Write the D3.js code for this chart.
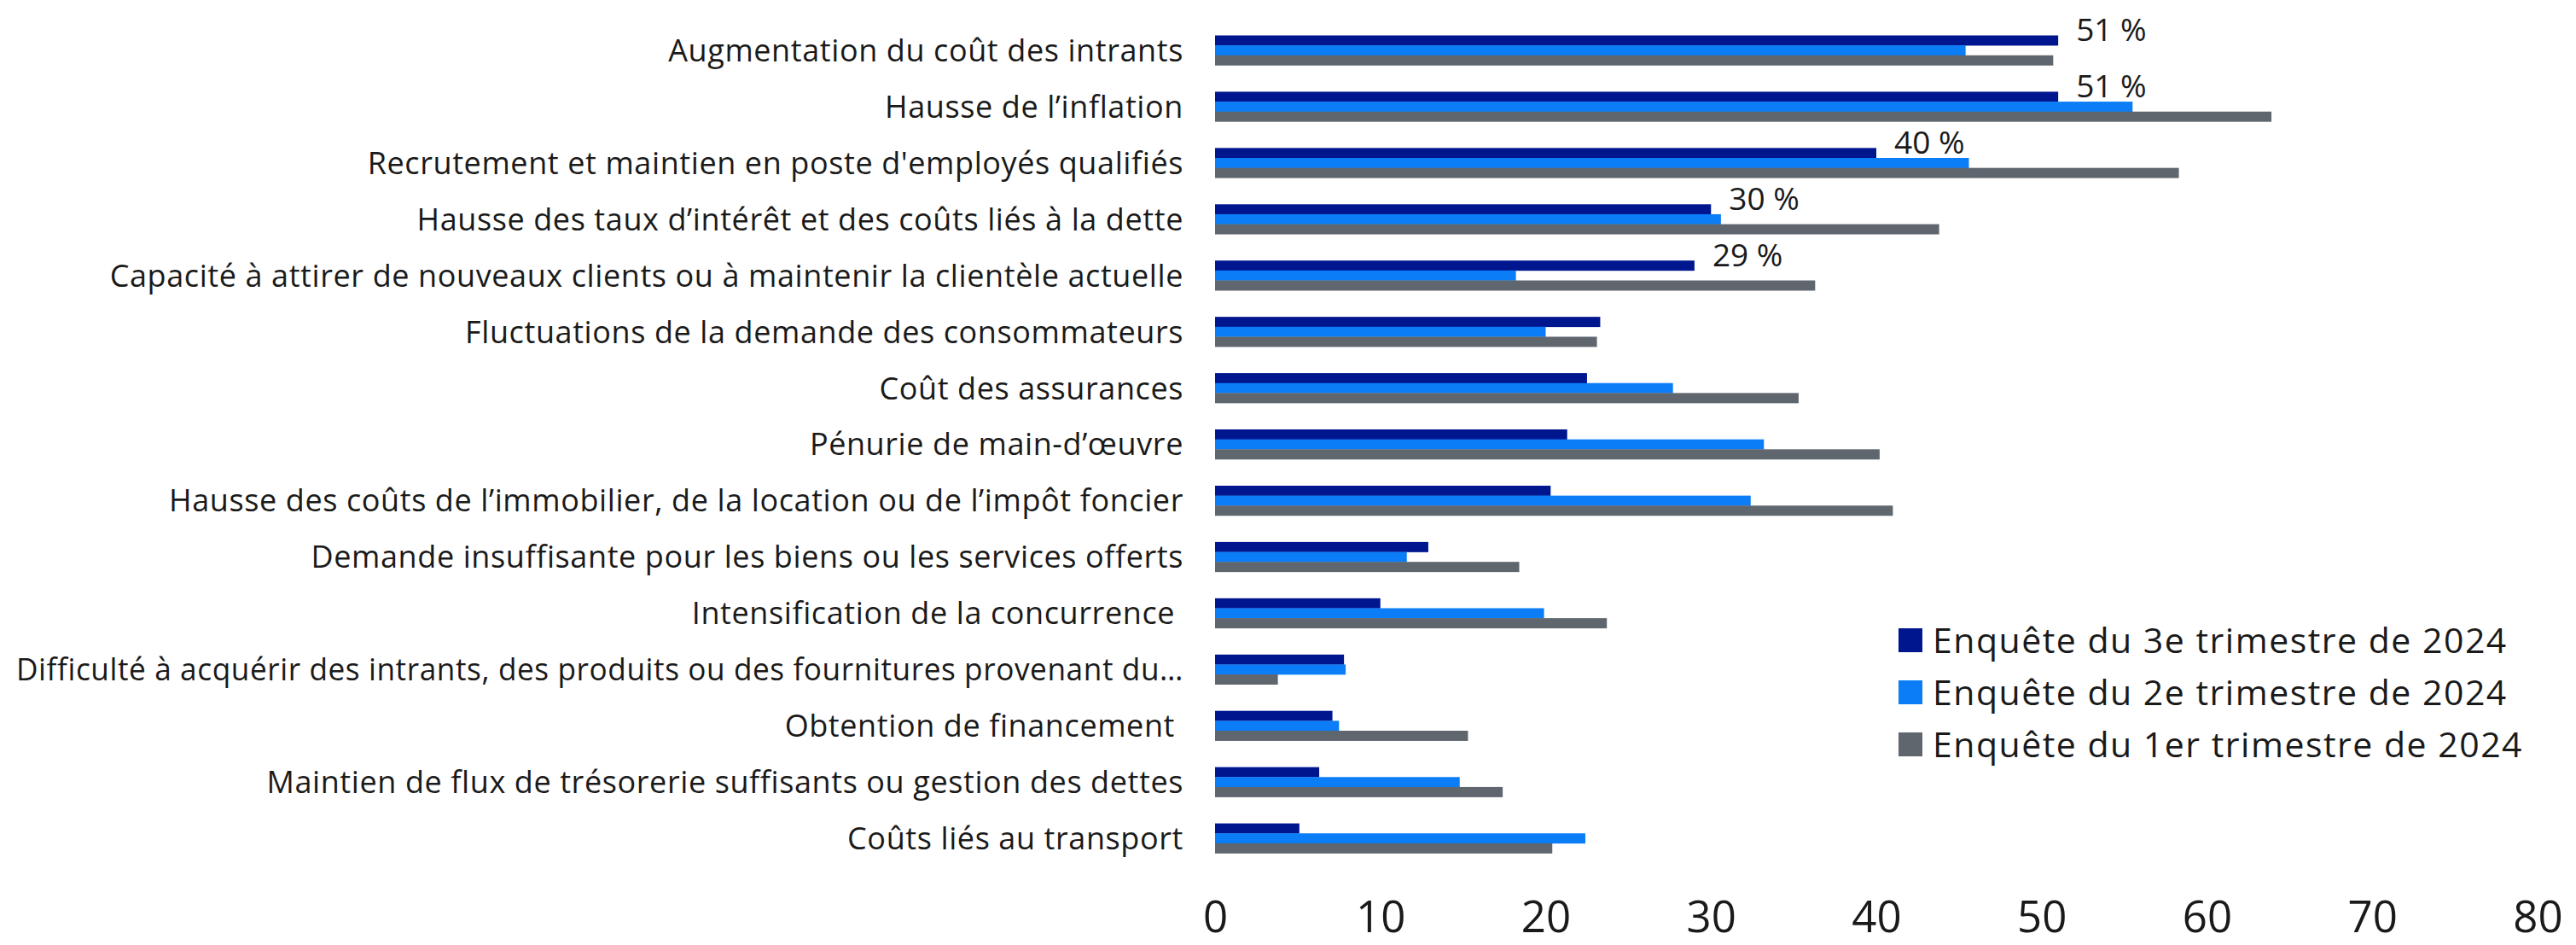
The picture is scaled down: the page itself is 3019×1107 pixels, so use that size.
<!DOCTYPE html>
<html>
<head>
<meta charset="utf-8">
<script src="https://cdn.jsdelivr.net/npm/d3@7"></script>
<style>
  body { margin: 0; background: #ffffff; }
  svg { display: block; }
  text { white-space: pre; }
</style>
</head>
<body>
<svg id="chart" width="3019" height="1107"></svg>
<script>
// Principaux obstacles prévus — part des entreprises (%)
const categories = [
  "Augmentation du coût des intrants",
  "Hausse de l’inflation",
  "Recrutement et maintien en poste d'employés qualifiés",
  "Hausse des taux d’intérêt et des coûts liés à la dette",
  "Capacité à attirer de nouveaux clients ou à maintenir la clientèle actuelle",
  "Fluctuations de la demande des consommateurs",
  "Coût des assurances",
  "Pénurie de main-d’œuvre",
  "Hausse des coûts de l’immobilier, de la location ou de l’impôt foncier",
  "Demande insuffisante pour les biens ou les services offerts",
  "Intensification de la concurrence ",
  "Difficulté à acquérir des intrants, des produits ou des fournitures provenant du…",
  "Obtention de financement ",
  "Maintien de flux de trésorerie suffisants ou gestion des dettes",
  "Coûts liés au transport"
];

const seriesNames = [
  "Enquête du 3e trimestre de 2024",
  "Enquête du 2e trimestre de 2024",
  "Enquête du 1er trimestre de 2024"
];

const q3Values = [51, 51, 40, 30, 29, 23.3, 22.5, 21.3, 20.3, 12.9, 10.0, 7.8, 7.1, 6.3, 5.1];
const q2Values = [45.4, 55.5, 45.6, 30.6, 18.2, 20.0, 27.7, 33.2, 32.4, 11.6, 19.9, 7.9, 7.5, 14.8, 22.4];
const q1Values = [50.7, 63.9, 58.3, 43.8, 36.3, 23.1, 35.3, 40.2, 41.0, 18.4, 23.7, 3.8, 15.3, 17.4, 20.4];

// Étiquettes de valeur affichées pour la série la plus récente
const labelledCount = 5;

const xTicks = [0, 10, 20, 30, 40, 50, 60, 70, 80];

const colors = ["#00168f", "#0a7df7", "#5f666e"];

const seriesValues = [q3Values, q2Values, q1Values];

const svg = d3.select("#chart");

const x = d3.scaleLinear().domain([0, 80]).range([1424, 2974]);

const y = d3.scaleBand()
  .domain(categories)
  .range([26, 1015])
  .paddingInner(0.47)
  .paddingOuter(0.235);

const ySub = d3.scaleBand()
  .domain(d3.range(seriesNames.length))
  .range([0, y.bandwidth()]);

// Barres groupées
const groups = svg.append("g")
  .selectAll("g")
  .data(categories)
  .join("g")
  .attr("transform", d => `translate(0,${y(d)})`);

groups.selectAll("rect")
  .data((d, i) => seriesValues.map((vals, s) => ({ s, v: vals[i] })))
  .join("rect")
  .attr("x", x(0))
  .attr("y", d => ySub(d.s))
  .attr("width", d => x(d.v) - x(0))
  .attr("height", ySub.bandwidth() + 0.3)
  .attr("fill", d => colors[d.s]);

// Libellés des catégories (resserrés s'ils débordent de la marge gauche)
const labelRight = 1387;
const labelLeftLimit = 19;
svg.append("g")
  .selectAll("text")
  .data(categories)
  .join("text")
  .attr("x", labelRight)
  .attr("y", d => y(d) + y.bandwidth() / 2)
  .attr("dy", "0.36em")
  .attr("text-anchor", "end")
  .attr("font-family", "'Open Sans', sans-serif")
  .attr("font-size", 36)
  .attr("letter-spacing", 0.6)
  .attr("fill", "#1a1a1a")
  .text(d => d)
  .each(function () {
    const room = labelRight - labelLeftLimit;
    if (this.getComputedTextLength() > room) {
      d3.select(this)
        .attr("textLength", room)
        .attr("lengthAdjust", "spacingAndGlyphs");
    }
  });

// Valeurs de la série la plus récente
svg.append("g")
  .selectAll("text")
  .data(categories.slice(0, labelledCount))
  .join("text")
  .attr("x", (d, i) => x(q3Values[i]) + 21)
  .attr("y", d => y(d) + 7)
  .attr("font-family", "'Open Sans', sans-serif")
  .attr("font-size", 37)
  .attr("fill", "#1a1a1a")
  .text((d, i) => `${d3.format(".0f")(q3Values[i])} %`);

// Axe horizontal
const axis = svg.append("g")
  .attr("transform", "translate(0,1092)")
  .call(d3.axisBottom(x).tickValues(xTicks).tickSize(0).tickFormat(d3.format("d")));
axis.select(".domain").remove();
axis.selectAll("text")
  .attr("y", 0)
  .attr("dy", null)
  .attr("font-family", "'Open Sans', sans-serif")
  .attr("font-size", 51)
  .attr("fill", "#1a1a1a");

// Légende
const legend = svg.append("g")
  .selectAll("g")
  .data(seriesNames)
  .join("g")
  .attr("transform", (d, i) => `translate(2225,${750 + i * 61})`);

legend.append("rect")
  .attr("x", 0)
  .attr("y", -14)
  .attr("width", 28)
  .attr("height", 28)
  .attr("fill", (d, i) => colors[i]);

legend.append("text")
  .attr("x", 40)
  .attr("y", 0)
  .attr("dy", "0.36em")
  .attr("font-family", "'Open Sans', sans-serif")
  .attr("font-size", 41)
  .attr("letter-spacing", 1.5)
  .attr("fill", "#1a1a1a")
  .text(d => d);
</script>
</body>
</html>
